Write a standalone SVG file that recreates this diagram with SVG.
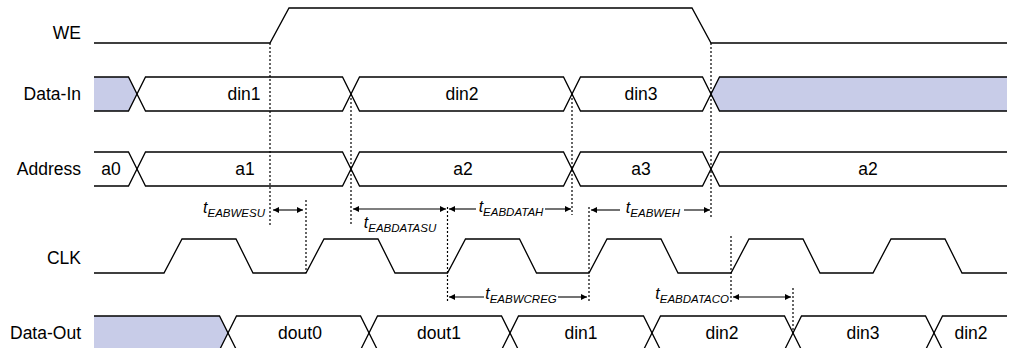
<svg xmlns="http://www.w3.org/2000/svg" width="1009" height="348" viewBox="0 0 1009 348">
<style>
.sig{fill:none;stroke:#000;stroke-width:1.3}
.fillb{fill:#c8cce8;stroke:none}
.dash{fill:none;stroke:#000;stroke-width:1.2;stroke-dasharray:2,2}
.arr{fill:none;stroke:#000;stroke-width:1.1}
.lbl{font-family:"Liberation Sans",Arial,sans-serif;font-size:17.5px;fill:#000}
.tl{font-family:"Liberation Sans",Arial,sans-serif;font-size:16px;font-style:italic;fill:#000}
.sub{font-size:11.5px}
</style>
<defs>
<marker id="ah" viewBox="0 0 10 10" refX="10" refY="5" markerWidth="8" markerHeight="6" markerUnits="userSpaceOnUse" orient="auto-start-reverse">
<path d="M0,0 L10,5 L0,10 Z" fill="#000"/>
</marker>
</defs>
<g id="labels">
<text class="lbl" x="81" y="39" text-anchor="end">WE</text>
<text class="lbl" x="81" y="100" text-anchor="end">Data-In</text>
<text class="lbl" x="81" y="175" text-anchor="end">Address</text>
<text class="lbl" x="81" y="264" text-anchor="end">CLK</text>
<text class="lbl" x="81" y="339" text-anchor="end">Data-Out</text>
</g>
<g id="we">
<path class="sig" d="M94,43 H270 L289,8 H692 L711,43 H1007"/>
</g>
<g id="data-in">
<polygon class="fillb" points="94,77 128.5,77 137,94 128.5,111 94,111"/>
<polygon class="fillb" points="1007,77 719.5,77 711,94 719.5,111 1007,111"/>
<path class="sig" d="M94,77 H128.5 L145.5,111 H342.5 L359.5,77 H563.5 L580.5,111 H702.5 L719.5,77 H1007"/>
<path class="sig" d="M94,111 H128.5 L145.5,77 H342.5 L359.5,111 H563.5 L580.5,77 H702.5 L719.5,111 H1007"/>
<text class="lbl" x="244" y="100" text-anchor="middle">din1</text>
<text class="lbl" x="462" y="100" text-anchor="middle">din2</text>
<text class="lbl" x="641" y="100" text-anchor="middle">din3</text>
</g>
<g id="address">
<path class="sig" d="M94,152 H128.5 L145.5,186 H342.5 L359.5,152 H563.5 L580.5,186 H702.5 L719.5,152 H1007"/>
<path class="sig" d="M94,186 H128.5 L145.5,152 H342.5 L359.5,186 H563.5 L580.5,152 H702.5 L719.5,186 H1007"/>
<text class="lbl" x="111" y="175" text-anchor="middle">a0</text>
<text class="lbl" x="245" y="175" text-anchor="middle">a1</text>
<text class="lbl" x="463" y="175" text-anchor="middle">a2</text>
<text class="lbl" x="641" y="175" text-anchor="middle">a3</text>
<text class="lbl" x="868" y="175" text-anchor="middle">a2</text>
</g>
<g id="clk">
<path class="sig" d="M94,273 H164 L182,239 H236 L253,273 H306 L324,239 H378 L395,273 H447.5 L465.5,239 H519.5 L536.5,273 H589 L607,239 H661 L678,273 H731 L749,239 H803 L820,273 H873 L891,239 H945 L962,273 H1007"/>
</g>
<g id="data-out">
<polygon class="fillb" points="94,316 219.5,316 228,333 219.5,350 94,350"/>
<path class="sig" d="M94,316 H219.5 L236.5,350 H360.5 L377.5,316 H501.5 L518.5,350 H643.5 L660.5,316 H784.5 L801.5,350 H925.5 L942.5,316 H1007"/>
<path class="sig" d="M94,350 H219.5 L236.5,316 H360.5 L377.5,350 H501.5 L518.5,316 H643.5 L660.5,350 H784.5 L801.5,316 H925.5 L942.5,350 H1007"/>
<text class="lbl" x="300" y="339" text-anchor="middle">dout0</text>
<text class="lbl" x="439" y="339" text-anchor="middle">dout1</text>
<text class="lbl" x="581" y="339" text-anchor="middle">din1</text>
<text class="lbl" x="722" y="339" text-anchor="middle">din2</text>
<text class="lbl" x="863" y="339" text-anchor="middle">din3</text>
<text class="lbl" x="971" y="339" text-anchor="middle">din2</text>
</g>
<g id="connectors">
<path class="dash" d="M270,43 V225"/>
<path class="dash" d="M306,200 V273"/>
<path class="dash" d="M351,94 V224"/>
<path class="dash" d="M572,94 V215"/>
<path class="dash" d="M711,43 V217"/>
<path class="dash" d="M447.5,207 V302"/>
<path class="dash" d="M589,207 V302"/>
<path class="dash" d="M731,236 V304"/>
<path class="dash" d="M793,288 V333"/>
<path class="arr" d="M273,210 H303" marker-start="url(#ah)" marker-end="url(#ah)"/>
<path class="arr" d="M353,209 H446" marker-start="url(#ah)" marker-end="url(#ah)"/>
<path class="arr" d="M476,209 H449" marker-end="url(#ah)"/>
<path class="arr" d="M545,209 H571" marker-end="url(#ah)"/>
<path class="arr" d="M620,210 H591" marker-end="url(#ah)"/>
<path class="arr" d="M684,210 H710" marker-end="url(#ah)"/>
<path class="arr" d="M484,297 H449" marker-end="url(#ah)"/>
<path class="arr" d="M558,297 H587" marker-end="url(#ah)"/>
<path class="arr" d="M733,297 H791" marker-start="url(#ah)" marker-end="url(#ah)"/>
</g>
<g id="timing-labels">
<text class="tl" x="265" y="213" text-anchor="end">t<tspan class="sub" dy="4">EABWESU</tspan></text>
<text class="tl" x="400" y="228" text-anchor="middle">t<tspan class="sub" dy="4">EABDATASU</tspan></text>
<text class="tl" x="511" y="212" text-anchor="middle">t<tspan class="sub" dy="4">EABDATAH</tspan></text>
<text class="tl" x="653" y="213" text-anchor="middle">t<tspan class="sub" dy="4">EABWEH</tspan></text>
<text class="tl" x="521" y="299" text-anchor="middle">t<tspan class="sub" dy="4">EABWCREG</tspan></text>
<text class="tl" x="729" y="299" text-anchor="end">t<tspan class="sub" dy="4">EABDATACO</tspan></text>
</g>
</svg>
